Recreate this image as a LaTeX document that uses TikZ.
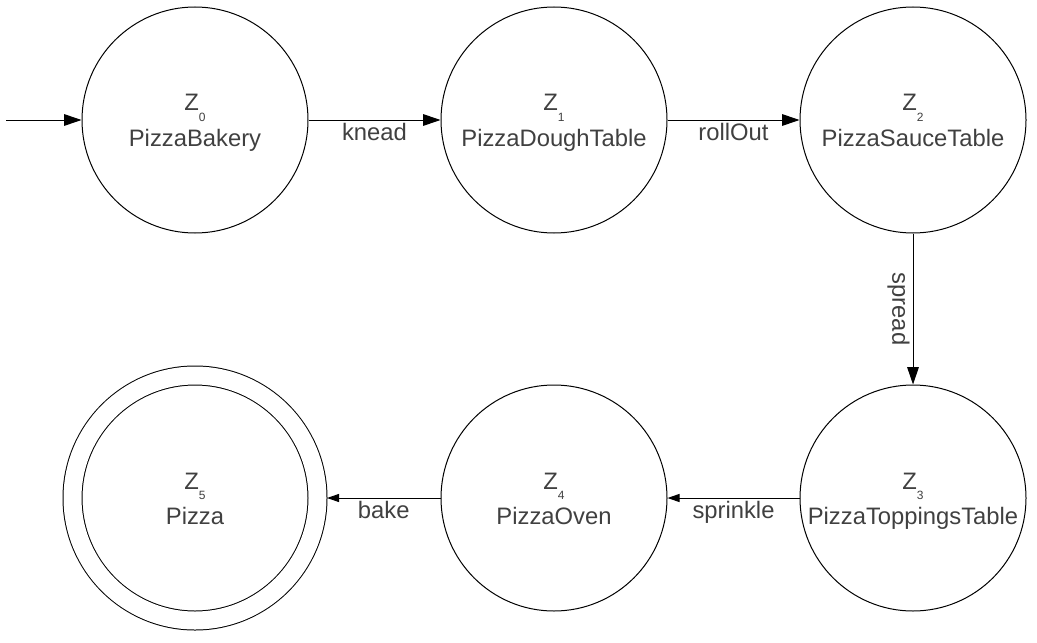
\documentclass[tikz,border=0pt]{standalone}
\usepackage{fontspec}
\setmainfont{Liberation Sans}
\usetikzlibrary{arrows.meta}
\newcommand{\zst}[1]{Z\raisebox{-5pt}{\fontsize{6}{6}\selectfont #1}}
\newcommand{\stlbl}[2]{\rule{0pt}{11.5pt}\zst{#1}\\#2\rule[-3pt]{0pt}{3pt}}
\begin{document}
\begin{tikzpicture}[x=0.5pt,y=-0.5pt,
  state/.style={draw, line width=0.5pt, circle, minimum size=113pt, inner sep=0pt,
    align=center, text=black!75, font=\fontsize{11.9}{17.5}\selectfont},
  accepting/.style={state, double, double distance=9pt, minimum size=122.5pt, outer sep=4.75pt},
  lbl/.style={text=black!75, font=\fontsize{11.9}{14}\selectfont, inner sep=1.5pt},
  fwd/.style={line width=0.5pt, -{Triangle[length=8.7pt,width=5.8pt]}},
  bwd/.style={line width=0.5pt, -{Triangle[length=6pt,width=4pt]}}]
\useasboundingbox (0,0) rectangle (1037,642);
\coordinate (start) at (6,120);
\node[state] (Z0) at (195,120) {\stlbl{0}{PizzaBakery}};
\node[state] (Z1) at (554,120) {\stlbl{1}{PizzaDoughTable}};
\node[state] (Z2) at (913,120) {\stlbl{2}{PizzaSauceTable}};
\node[state] (Z3) at (913,498) {\stlbl{3}{PizzaToppingsTable}};
\node[state] (Z4) at (554,498) {\stlbl{4}{PizzaOven}};
\node[accepting] (Z5) at (195,498) {\stlbl{5}{Pizza}};
\draw[fwd] (start) -- (Z0);
\draw[fwd] (Z0) -- node[lbl, below] (knead) {knead} (Z1);
\draw[fwd] (Z1) -- node[lbl, below] (rollout) {rollOut} (Z2);
\draw[fwd] (Z2) -- node[lbl, rotate=-90, anchor=north] (spread) {spread} (Z3);
\draw[bwd] (Z3) -- node[lbl, below] (sprinkle) {sprinkle} (Z4);
\draw[bwd] (Z4) -- node[lbl, below] (bake) {bake} (Z5);
\end{tikzpicture}
\end{document}
